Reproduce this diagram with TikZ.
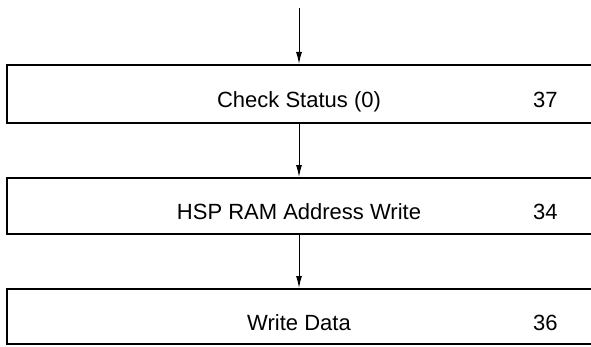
\documentclass[tikz,border=0pt]{standalone}
\usepackage{fontspec}
\setmainfont{Liberation Sans}
\usetikzlibrary{arrows.meta}
\begin{document}
\begin{tikzpicture}[x=1pt,y=1pt,
  stepbox/.style={draw=black, line width=1.6pt, rectangle, minimum width=640pt, anchor=north west, inner sep=0pt},
  label/.style={font=\fontsize{22}{26}\selectfont, anchor=base, inner sep=0pt},
  num/.style={font=\fontsize{22}{26}\selectfont, anchor=base west, inner sep=0pt},
  arr/.style={draw=black, line width=1pt, -{Latex[length=12pt,width=6pt]}}]
\useasboundingbox (0,0) rectangle (591,346);
\clip (0,0) rectangle (591,346);
\node[stepbox, minimum height=58pt] (b1) at (6,282) {};
\node[stepbox, minimum height=56pt] (b2) at (6,169) {};
\node[stepbox, minimum height=55pt] (b3) at (6,58) {};
\coordinate (start) at (299,338);
\node[label] (t1) at (299,238) {Check Status (0)};
\node[num] (n1) at (533,238) {37};
\node[label] (t2) at (299,127) {HSP RAM Address Write};
\node[num] (n2) at (533,127) {34};
\node[label] (t3) at (299,16) {Write Data};
\node[num] (n3) at (533,16) {36};
\draw[arr] (start) -- (start |- b1.north);
\draw[arr] (start |- b1.south) -- (start |- b2.north);
\draw[arr] (start |- b2.south) -- (start |- b3.north);
\end{tikzpicture}
\end{document}
